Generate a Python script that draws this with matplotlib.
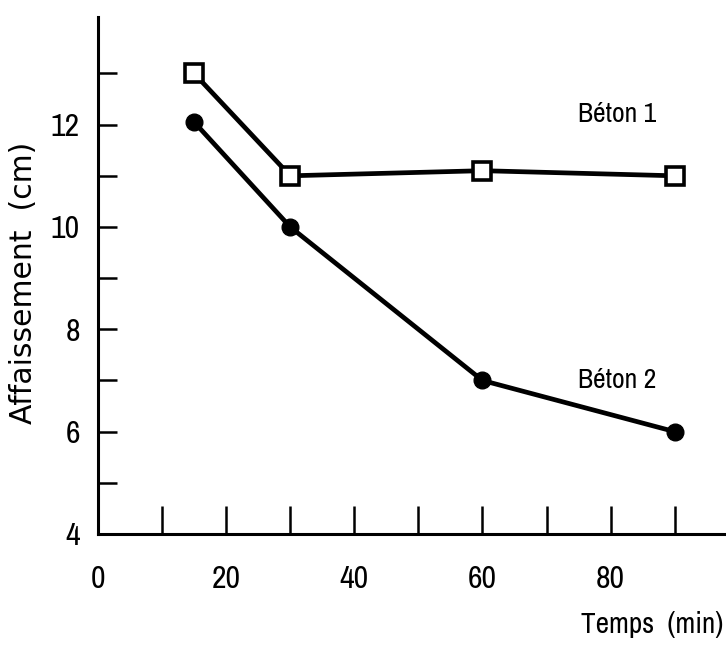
import numpy as np
import matplotlib
matplotlib.use("Agg")
from matplotlib import pyplot as plt

# slump test (affaissement) vs time for two concretes
temps = [15, 30, 60, 90]
beton1 = [13.0, 11.0, 11.1, 11.0]
beton2 = [12.05, 10.0, 7.0, 6.0]

xticks = [0, 10, 20, 30, 40, 50, 60, 70, 80, 90]
xlabels = ['0', '', '20', '', '40', '', '60', '', '80', '']
yticks_major = [4, 6, 8, 10, 12]
yticks_minor = [5, 7, 9, 11, 13]

plt.rcParams['font.family'] = ['Archivo Narrow', 'Liberation Sans', 'DejaVu Sans']

fig = plt.figure(figsize=(7.26, 6.46), dpi=100)
ax = fig.add_axes([0.135, 0.1734, 0.865, 0.80])

ax.plot(temps, beton1, color='black', lw=3.4, marker='s', ms=13.5,
        mfc='white', mec='black', mew=2.6, zorder=3)
ax.plot(temps, beton2, color='black', lw=3.4, marker='o', ms=12,
        mfc='black', mec='black', zorder=3)

ax.text(81, 12.2, 'Béton 1', fontsize=20, ha='center', va='center')
ax.text(81, 7.0, 'Béton 2', fontsize=20, ha='center', va='center')

ax.set_xlim(0, 98)
ax.set_ylim(4, 14.1)

for s in ['top', 'right']:
    ax.spines[s].set_visible(False)
for s in ['left', 'bottom']:
    ax.spines[s].set_linewidth(2.2)

# x axis: ticks drawn inwards, labels only every 20
ax.set_xticks(xticks)
ax.set_xticklabels(xlabels)
ax.tick_params(axis='x', direction='in', length=20, width=1.8,
               labelsize=23, pad=22)

ax.set_yticks(yticks_major)
ax.set_yticklabels([str(v) for v in yticks_major])
ax.set_yticks(yticks_minor, minor=True)
ax.tick_params(axis='y', which='both', direction='in', length=14, width=1.8,
               labelsize=23, pad=13)

fig.text(24 / 726, 1 - 283 / 646, 'Affaissement  (cm)', fontsize=21.5,
         family='DejaVu Sans', rotation=90, ha='center', va='center')
fig.text(0.996, 1 - 625 / 646, 'Temps  (min)', fontsize=21, ha='right', va='center')

fig.savefig('out.png', dpi=100)
